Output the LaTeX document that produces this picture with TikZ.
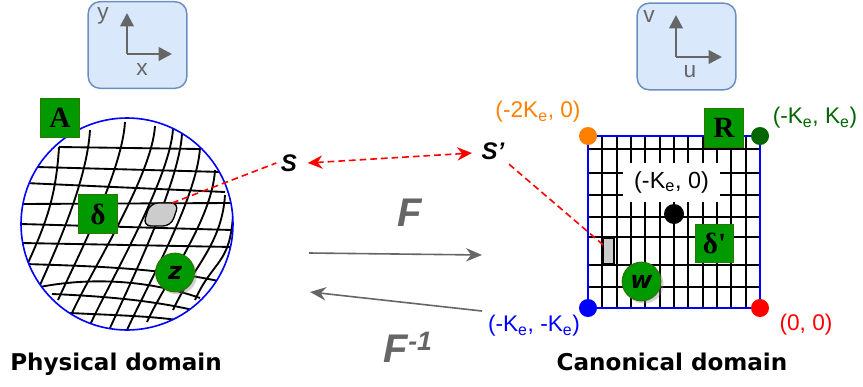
\documentclass[tikz,border=0pt]{standalone}
\usepackage{fontspec}
\setmainfont{Liberation Sans}
\newfontfamily\vfont{DejaVu Sans}
\newfontfamily\tfont{Liberation Serif}
\usetikzlibrary{arrows.meta,positioning,calc,shadows}
\definecolor{gfill}{HTML}{009900}
\definecolor{gline}{HTML}{2D7600}
\definecolor{axfill}{HTML}{DAE8FC}
\definecolor{axline}{HTML}{6C8EBF}
\definecolor{dgray}{HTML}{666666}
\definecolor{orng}{HTML}{FF8000}
\definecolor{dgreen}{HTML}{006600}

\begin{document}
\begin{tikzpicture}[x=0.75pt,y=-0.75pt,
  axbox/.style={draw=axline,fill=axfill,line width=1.1pt,rounded corners=9pt,minimum width=74pt,minimum height=65pt},
  axis/.style={dgray,line width=2pt,-{Triangle[length=10pt,width=10pt]}},
  axlabel/.style={text=dgray,font=\fontsize{17}{17}\selectfont},
  gbox/.style={draw=gline,fill=gfill,line width=0.8pt,minimum size=29pt,inner sep=0pt,font=\tfont\bfseries\fontsize{22}{22}\selectfont},
  gball/.style={circle,draw=gline,fill=gfill,line width=0.8pt,minimum size=29pt,inner sep=0pt,font=\vfont\bfseries\itshape\fontsize{18}{18}\selectfont,drop shadow={opacity=0.35,shadow xshift=2pt,shadow yshift=-2pt}},
  mesh/.style={line width=1.4pt},
  dot/.style={circle,fill=#1,minimum size=13.5pt,inner sep=0pt},
  clabel/.style={text=#1,font=\fontsize{17}{17}\selectfont},
  reddash/.style={red,line width=1.2pt,dash pattern=on 5pt off 3pt},
  redboth/.style={arrows={Stealth[length=11pt,width=10pt]-Stealth[length=11pt,width=10pt]}},
  maparrow/.style={dgray,line width=1.2pt,-{Stealth[length=12pt,width=10pt]}},
  domlabel/.style={font=\vfont\bfseries\fontsize{17.3}{17.3}\selectfont},
  flabel/.style={text=dgray,font=\bfseries\itshape\fontsize{30}{30}\selectfont}
]
\useasboundingbox (0,0) rectangle (863,386);

% axes boxes
\node[axbox] (xybox) at (137.5,45) {};
\draw[axis] (127,54) -- (127,13);
\draw[axis] (127,54) -- (172,54);
\node[axlabel] (ylab) at (103,16) {y};
\node[axlabel] (xlab) at (142,70) {x};
\node[axbox] (uvbox) at (686.5,46.5) {};
\draw[axis] (676,57) -- (676,15);
\draw[axis] (676,57) -- (722,57);
\node[axlabel] (vlab) at (649,17) {v};
\node[axlabel] (ulab) at (690,72) {u};

% physical domain: curved mesh
\begin{scope}
\clip (127,224) circle (106);
\foreach \ax/\ay/\bx/\by in {59/147/200/149, 37/167/222/172, 25/183/225/192, 21/204/230/203,
  21/224/232/230, 22/243/232/247}
  \draw[mesh] (\ax,\ay) -- (\bx,\by);
\draw[mesh] (25,264) .. controls (90,266) and (160,268) .. (223,282);
\draw[mesh] (40,287) .. controls (80,279) and (140,277) .. (200,298);
\draw[mesh] (52,294) .. controls (100,296) and (150,300) .. (193,310);
\draw[mesh] (70,313) .. controls (110,315) and (150,316) .. (177,320);
\foreach \ax/\ay/\bx/\by in {59/147/28/263, 90/130/40/285, 125/122/58/300, 155/126/72/313,
  173/129/90/325, 182/134/110/328, 200/148/127/330, 215/170/147/322, 225/195/173/310, 233/215/195/300}
  \draw[mesh] (\ax,\ay) .. controls +(-3,50) and +(18,-40) .. (\bx,\by);
\end{scope}
\draw[blue,line width=1.2pt] (127,224) circle (106);
\draw[fill=gray!40,line width=1pt,rounded corners=6pt] (150,203) -- (179,203) -- (171,226) -- (143,226) -- cycle;
\coordinate (blobtip) at (172,203);

\node[gbox] (A) at (60,118) {A};
\node[gbox] (delta) at (98,214) {δ};
\node[gball] (z) at (175,272.5) {z};
\node[domlabel] (phys) at (116,364) {Physical domain};

% canonical domain
\foreach \gx in {1,...,11}
  \draw[mesh] ({588+\gx*14.33},136) -- ({588+\gx*14.33},308);
\foreach \gy in {149,173,195,217,237,265,287}
  \draw[mesh] (588,\gy) -- (760,\gy);
\node[fill=white,minimum width=72.75pt,minimum height=29pt,inner sep=0pt,
  font=\fontsize{17.5}{17.5}\selectfont] (mid) at (671.5,182.5) {(-K\textsubscript{e}, 0)\hspace{11pt}};
\draw[blue,line width=1.5pt] (588,136) rectangle (760,308);
\node[dot=black,minimum size=15pt] (origin) at (674,214) {};
\node[dot=orng] (c1) at (588,136) {};
\node[dot=dgreen] (c2) at (760,136) {};
\node[dot=blue] (c3) at (588,308) {};
\node[dot=red] (c4) at (760,308) {};
\node[clabel=orng] (l1) at (538,112) {(-2K\textsubscript{e}, 0)};
\node[clabel=dgreen] (l2) at (815,118) {(-K\textsubscript{e}, K\textsubscript{e})};
\node[clabel=blue] (l3) at (534,326) {(-K\textsubscript{e}, -K\textsubscript{e})};
\node[clabel=red] (l4) at (806,325) {(0, 0)};
\node[draw,fill=gray!40,line width=1pt,minimum width=8.25pt,minimum height=19.5pt,inner sep=0pt] (rect) at (608.5,251) {};
\node[gbox] (R) at (724,128) {R};
\node[gbox] (deltap) at (714.5,243.5) {δ'};
\node[gball] (w) at (641.5,281.5) {w};
\node[domlabel] (canon) at (672,362) {Canonical domain};

% correspondence S <-> S'
\node[font=\bfseries\itshape\fontsize{18}{18}\selectfont] (S) at (289,163) {S};
\node[font=\bfseries\itshape\fontsize{18}{18}\selectfont] (Sp) at (493,151) {S'};
\draw[reddash] (blobtip) -- (S.west);
\draw[reddash,redboth] ($(S.east)+(6,0)$) -- ($(Sp.west)+(-5,2)$);
\draw[reddash] (Sp.south east) -- ($(rect.west)+(1,-6)$);

% maps
\coordinate (fa) at (309,253);
\coordinate (fb) at (482,255);
\coordinate (ga) at (482,311);
\coordinate (gb) at (310,292);
\draw[maparrow] (fa) -- (fb);
\draw[maparrow] (ga) -- (gb);
\node[flabel] (F) at (410,213) {F};
\node[flabel] (Finv) at (408,347) {F\raisebox{9pt}{\fontsize{20}{20}\selectfont -1}};
\end{tikzpicture}
\end{document}
